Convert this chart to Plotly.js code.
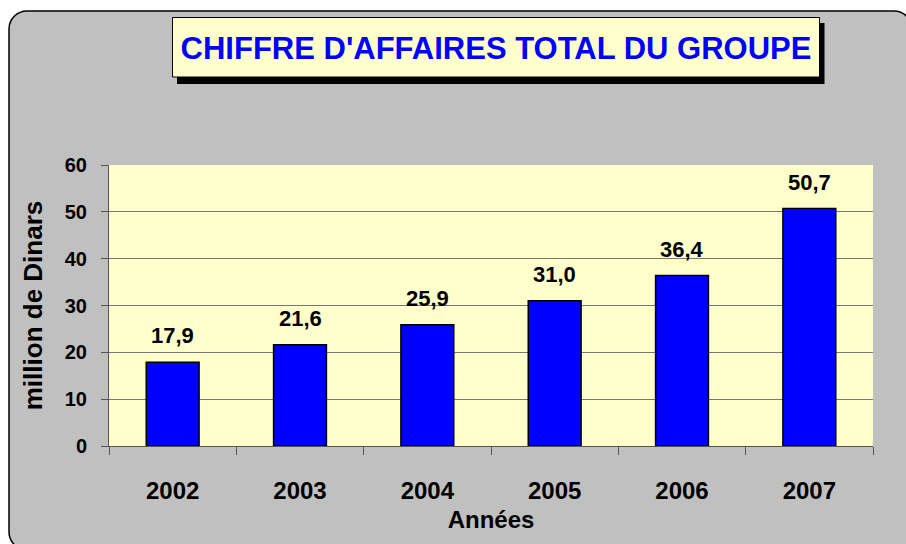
<!DOCTYPE html>
<html>
<head>
<meta charset="utf-8">
<script src="https://cdn.plot.ly/plotly-3.0.1.min.js"></script>
<style>html,body{margin:0;padding:0;background:#fff;}#chart{width:906px;height:544px;}</style>
</head>
<body>
<div id="chart"></div>
<script>
var years = ['2002', '2003', '2004', '2005', '2006', '2007'];
var revenue = [17.9, 21.6, 25.9, 31.0, 36.4, 50.7];
var yTicks = [0, 10, 20, 30, 40, 50, 60];
var chartTitle = "CHIFFRE D'AFFAIRES TOTAL DU GROUPE";
var xTitle = 'Années';
var yTitle = 'million de Dinars';

var W = 906, H = 544;
var M = {l: 109, r: 33, t: 165, b: 98};
var PW = W - M.l - M.r, PH = H - M.t - M.b;
function px(x) { return (x - M.l) / PW; }
function py(y) { return (H - M.b - y) / PH; }
function rectPath(x0, y0, x1, y1) {
  return 'M' + px(x0) + ',' + py(y0) + ' L' + px(x1) + ',' + py(y0) + ' L' + px(x1) + ',' + py(y1) + ' L' + px(x0) + ',' + py(y1) + ' Z';
}
function roundRectPath(x0, y0, x1, y1, r) {
  var k = 0.55 * r;
  return 'M' + px(x0 + r) + ',' + py(y0) +
    ' L' + px(x1 - r) + ',' + py(y0) +
    ' C' + px(x1 - r + k) + ',' + py(y0) + ' ' + px(x1) + ',' + py(y0 + r - k) + ' ' + px(x1) + ',' + py(y0 + r) +
    ' L' + px(x1) + ',' + py(y1 - r) +
    ' C' + px(x1) + ',' + py(y1 - r + k) + ' ' + px(x1 - r + k) + ',' + py(y1) + ' ' + px(x1 - r) + ',' + py(y1) +
    ' L' + px(x0 + r) + ',' + py(y1) +
    ' C' + px(x0 + r - k) + ',' + py(y1) + ' ' + px(x0) + ',' + py(y1 - r + k) + ' ' + px(x0) + ',' + py(y1 - r) +
    ' L' + px(x0) + ',' + py(y0 + r) +
    ' C' + px(x0) + ',' + py(y0 + r - k) + ' ' + px(x0 + r - k) + ',' + py(y0) + ' ' + px(x0 + r) + ',' + py(y0) + ' Z';
}

var FONT = 'Liberation Sans, Arial, sans-serif';

var trace = {
  type: 'bar',
  x: years,
  y: revenue,
  marker: {color: '#0000ff', line: {color: '#000000', width: 1.5}},
  hoverinfo: 'x+y'
};

var labels = years.map(function (yr, i) {
  return {
    x: i, y: revenue[i], xref: 'x', yref: 'y',
    text: revenue[i].toFixed(1).replace('.', ','),
    showarrow: false, yanchor: 'bottom', yshift: 12,
    font: {family: FONT, size: 22, color: '#000000', weight: 'bold'}
  };
});

var layout = {
  width: W, height: H,
  margin: M,
  paper_bgcolor: '#ffffff',
  plot_bgcolor: 'rgba(0,0,0,0)',
  showlegend: false,
  bargap: 0.585,
  separators: ',.',
  font: {family: FONT, color: '#000000'},
  title: {
    text: chartTitle,
    x: 496 / W, xanchor: 'center', xref: 'container',
    y: 1 - 48 / H, yanchor: 'middle', yref: 'container',
    font: {family: FONT, size: 31, color: '#0000ff', weight: 'bold'}
  },
  xaxis: {
    type: 'category',
    categoryorder: 'array', categoryarray: years,
    range: [-0.5, years.length - 0.5], autorange: false,
    showline: true, linecolor: '#555555', linewidth: 1,
    ticks: 'outside', tickson: 'boundaries', ticklen: 8, tickcolor: '#555555',
    tickfont: {family: FONT, size: 24, color: '#000000', weight: 'bold'},
    tickangle: 0,
    ticklabelstandoff: 23,
    showgrid: false,
    title: {text: xTitle, standoff: 8, font: {family: FONT, size: 24, color: '#000000', weight: 'bold'}}
  },
  yaxis: {
    range: [0, 60], autorange: false,
    tickvals: yTicks,
    showline: true, linecolor: '#555555', linewidth: 1,
    ticks: 'outside', ticklen: 7, tickcolor: '#555555',
    tickfont: {family: FONT, size: 20, color: '#000000', weight: 'bold'},
    ticklabelstandoff: 10,
    showgrid: true, gridcolor: '#777777', gridwidth: 1,
    zeroline: false,
    title: {text: yTitle, standoff: 14, font: {family: FONT, size: 26, color: '#000000', weight: 'bold'}}
  },
  annotations: labels,
  shapes: [
    {type: 'path', xref: 'paper', yref: 'paper', layer: 'below',
     path: roundRectPath(9, 11, 912, 550, 18),
     fillcolor: '#c0c0c0', line: {color: '#000000', width: 1.5}},
    {type: 'rect', xref: 'paper', yref: 'paper', layer: 'below',
     x0: 0, x1: 1, y0: 0, y1: 1,
     fillcolor: '#ffffcc', line: {width: 0}},
    {type: 'path', xref: 'paper', yref: 'paper', layer: 'below',
     path: rectPath(177, 23, 824.5, 84),
     fillcolor: '#000000', line: {width: 0}},
    {type: 'path', xref: 'paper', yref: 'paper', layer: 'below',
     path: rectPath(172.5, 17.5, 819.5, 77),
     fillcolor: '#ffffcc', line: {color: '#000000', width: 1}}
  ]
};

Plotly.newPlot('chart', [trace], layout, {displayModeBar: false, staticPlot: true});
</script>
</body>
</html>
